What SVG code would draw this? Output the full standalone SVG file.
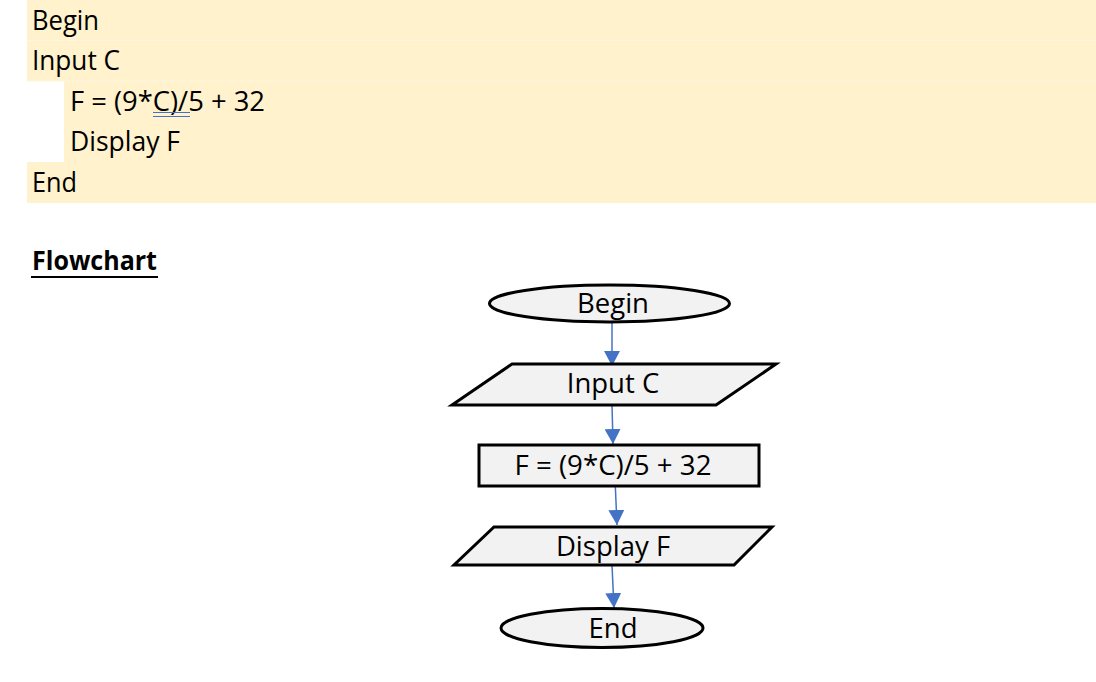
<svg xmlns="http://www.w3.org/2000/svg" width="1096" height="682" viewBox="0 0 1096 682">
<defs>
<style>
.t{font-family:"Open Sans","Noto Sans","Liberation Sans",sans-serif;font-size:27.5px;fill:#000}
.c{text-anchor:middle}
.sh{fill:#F2F2F2;stroke:#000;stroke-width:3}
.cn{stroke:#4472C4;stroke-width:1.5;fill:none}
</style>
<marker id="ah" markerWidth="16" markerHeight="16" viewBox="0 0 16 16" refX="15" refY="8" orient="auto" markerUnits="userSpaceOnUse">
<path d="M0,0 L15,8 L0,16 Z" fill="#4472C4"/>
</marker>
</defs>
<rect width="1096" height="682" fill="#fff"/>
<g id="pseudocode">
<rect x="27" y="0" width="1069" height="203" fill="#FFF2CC"/>
<rect x="27" y="81" width="37" height="81" fill="#fff"/>
<line x1="27" y1="40.5" x2="1096" y2="40.5" stroke="#FFF6DD" stroke-width="1"/>
<line x1="27" y1="81" x2="1096" y2="81" stroke="#FFF6DD" stroke-width="1"/>
<text class="t" x="32" y="30" textLength="67" lengthAdjust="spacingAndGlyphs">Begin</text>
<text class="t" x="32" y="70" textLength="88" lengthAdjust="spacingAndGlyphs">Input C</text>
<text class="t" x="70" y="111" textLength="195" lengthAdjust="spacingAndGlyphs">F = (9*C)/5 + 32</text>
<line x1="153" y1="112.5" x2="190" y2="112.5" stroke="#4472C4" stroke-width="1"/>
<line x1="153" y1="116.5" x2="190" y2="116.5" stroke="#4472C4" stroke-width="1"/>
<text class="t" x="70" y="151" textLength="110" lengthAdjust="spacingAndGlyphs">Display F</text>
<text class="t" x="32" y="192" textLength="45" lengthAdjust="spacingAndGlyphs">End</text>
</g>
<g id="heading">
<text class="t" x="32" y="270" font-weight="bold" font-size="25" textLength="125" lengthAdjust="spacingAndGlyphs">Flowchart</text>
<line x1="31" y1="277" x2="158" y2="277" stroke="#000" stroke-width="2"/>
</g>
<g id="connectors">
<line class="cn" x1="612" y1="322" x2="612" y2="366" marker-end="url(#ah)"/>
<line class="cn" x1="612" y1="405" x2="613" y2="444" marker-end="url(#ah)"/>
<line class="cn" x1="615" y1="479" x2="617" y2="525" marker-end="url(#ah)"/>
<line class="cn" x1="612" y1="565" x2="614" y2="608" marker-end="url(#ah)"/>
</g>
<g id="begin">
<ellipse class="sh" cx="609.5" cy="303.5" rx="120" ry="18.5"/>
<text class="t c" x="613" y="313">Begin</text>
</g>
<g id="input">
<polygon class="sh" points="512,364 776,364 716,405 452,405"/>
<text class="t c" x="613" y="393">Input C</text>
</g>
<g id="process">
<rect class="sh" x="479" y="445" width="280" height="41"/>
<text class="t c" x="613" y="475" textLength="197" lengthAdjust="spacingAndGlyphs">F = (9*C)/5 + 32</text>
</g>
<g id="display">
<polygon class="sh" points="494,527 772,527 734,565 454,565"/>
<text class="t c" x="613" y="556">Display F</text>
</g>
<g id="end">
<ellipse class="sh" cx="602" cy="628" rx="101" ry="19.5"/>
<text class="t c" x="613" y="638">End</text>
</g>
</svg>
